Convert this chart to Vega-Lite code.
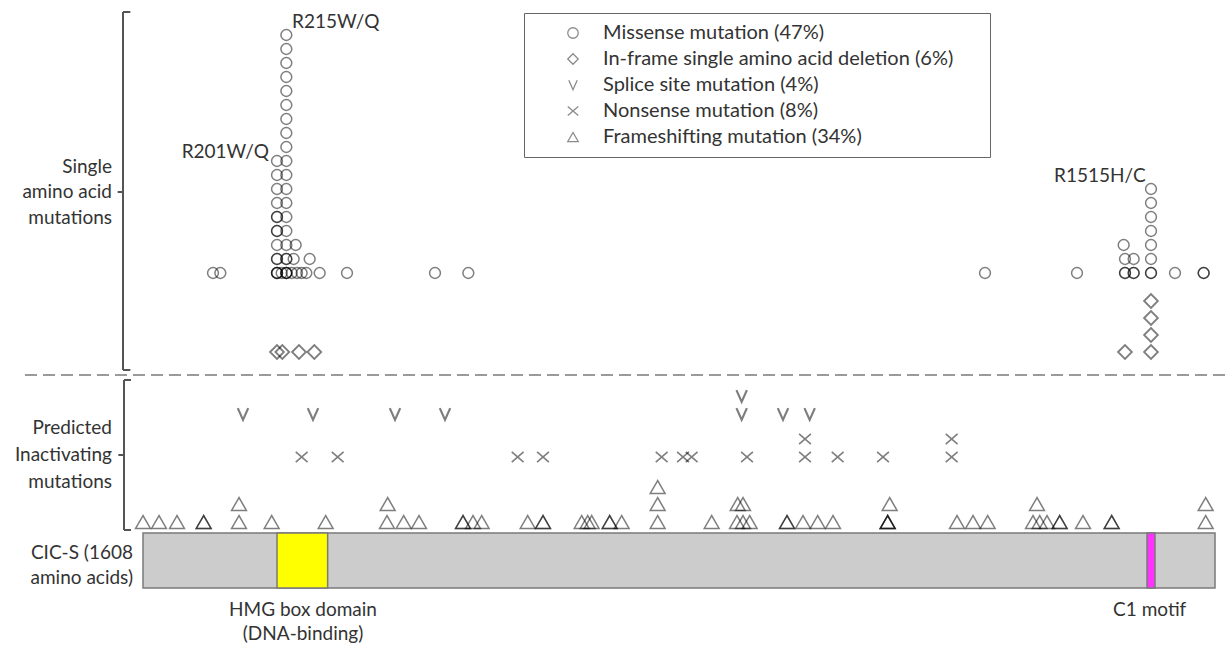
{
  "$schema": "https://vega.github.io/schema/vega-lite/v6.json",
  "width": 1228,
  "height": 646,
  "autosize": {"type": "fit", "contains": "padding"},
  "padding": 0,
  "background": "#ffffff",
  "config": {"view": {"stroke": null}},
  "datasets": {
    "types": [
      {"k": "M", "type": "Missense mutation (47%)"},
      {"k": "D", "type": "In-frame single amino acid deletion (6%)"},
      {"k": "S", "type": "Splice site mutation (4%)"},
      {"k": "N", "type": "Nonsense mutation (8%)"},
      {"k": "F", "type": "Frameshifting mutation (34%)"}
    ],
    "pts": [
      {"k":"M","aa":105,"y":273},{"k":"M","aa":116,"y":273},{"k":"M","aa":201,"y":273},{"k":"M","aa":201,"y":273},{"k":"M","aa":201,"y":273},{"k":"M","aa":208,"y":273},{"k":"M","aa":215,"y":273},{"k":"M","aa":215,"y":273},{"k":"M","aa":215,"y":273},{"k":"M","aa":223,"y":273},{"k":"M","aa":231,"y":273},{"k":"M","aa":238,"y":273},{"k":"M","aa":245,"y":273},{"k":"M","aa":265,"y":273},{"k":"M","aa":306,"y":273},{"k":"M","aa":438,"y":273},{"k":"M","aa":488,"y":273},{"k":"M","aa":1263,"y":273},{"k":"M","aa":1401,"y":273},{"k":"M","aa":1473,"y":273},{"k":"M","aa":1473,"y":273},{"k":"M","aa":1486,"y":273},{"k":"M","aa":1486,"y":273},{"k":"M","aa":1512,"y":273},{"k":"M","aa":1512,"y":273},{"k":"M","aa":1548,"y":273},{"k":"M","aa":1591,"y":273},{"k":"M","aa":1591,"y":273},
      {"k":"M","aa":201,"y":259},{"k":"M","aa":201,"y":259},{"k":"M","aa":215,"y":259},{"k":"M","aa":215,"y":259},{"k":"M","aa":226,"y":259},{"k":"M","aa":250,"y":259},{"k":"M","aa":1473,"y":259},{"k":"M","aa":1486,"y":259},{"k":"M","aa":1512,"y":259},
      {"k":"M","aa":201,"y":245},{"k":"M","aa":215,"y":245},{"k":"M","aa":229,"y":245},{"k":"M","aa":1471,"y":245},{"k":"M","aa":1512,"y":245},
      {"k":"M","aa":201,"y":231},{"k":"M","aa":201,"y":231},{"k":"M","aa":215,"y":231},{"k":"M","aa":1512,"y":231},
      {"k":"M","aa":201,"y":217},{"k":"M","aa":201,"y":217},{"k":"M","aa":215,"y":217},{"k":"M","aa":1512,"y":217},
      {"k":"M","aa":201,"y":203},{"k":"M","aa":215,"y":203},{"k":"M","aa":1512,"y":203},
      {"k":"M","aa":201,"y":189},{"k":"M","aa":215,"y":189},{"k":"M","aa":1512,"y":189},
      {"k":"M","aa":201,"y":175},{"k":"M","aa":215,"y":175},
      {"k":"M","aa":201,"y":161},{"k":"M","aa":215,"y":161},
      {"k":"M","aa":215,"y":147},{"k":"M","aa":215,"y":133},{"k":"M","aa":215,"y":119},{"k":"M","aa":215,"y":105},{"k":"M","aa":215,"y":91},{"k":"M","aa":215,"y":77},{"k":"M","aa":215,"y":63},{"k":"M","aa":215,"y":49},{"k":"M","aa":215,"y":35},
      {"k":"D","aa":201,"y":352},{"k":"D","aa":209,"y":352},{"k":"D","aa":234,"y":352},{"k":"D","aa":257,"y":352},{"k":"D","aa":1473,"y":352},{"k":"D","aa":1512,"y":352},{"k":"D","aa":1512,"y":335},{"k":"D","aa":1512,"y":318},{"k":"D","aa":1512,"y":301},
      {"k":"S","aa":150,"y":414},{"k":"S","aa":255,"y":414},{"k":"S","aa":378,"y":414},{"k":"S","aa":453,"y":414},{"k":"S","aa":898,"y":414},{"k":"S","aa":898,"y":396},{"k":"S","aa":960,"y":414},{"k":"S","aa":1000,"y":414},
      {"k":"N","aa":238,"y":457},{"k":"N","aa":292,"y":457},{"k":"N","aa":562,"y":457},{"k":"N","aa":600,"y":457},{"k":"N","aa":778,"y":457},{"k":"N","aa":810,"y":457},{"k":"N","aa":823,"y":457},{"k":"N","aa":906,"y":457},{"k":"N","aa":993,"y":457},{"k":"N","aa":993,"y":439},{"k":"N","aa":1042,"y":457},{"k":"N","aa":1110,"y":457},{"k":"N","aa":1213,"y":457},{"k":"N","aa":1213,"y":439},
      {"k":"F","aa":0,"y":522},{"k":"F","aa":24,"y":522},{"k":"F","aa":51,"y":522},{"k":"F","aa":91,"y":522},{"k":"F","aa":91,"y":522},{"k":"F","aa":144,"y":522},{"k":"F","aa":193,"y":522},{"k":"F","aa":274,"y":522},{"k":"F","aa":366,"y":522},{"k":"F","aa":391,"y":522},{"k":"F","aa":414,"y":522},{"k":"F","aa":480,"y":522},{"k":"F","aa":480,"y":522},{"k":"F","aa":495,"y":522},{"k":"F","aa":508,"y":522},{"k":"F","aa":577,"y":522},{"k":"F","aa":600,"y":522},{"k":"F","aa":600,"y":522},{"k":"F","aa":658,"y":522},{"k":"F","aa":667,"y":522},{"k":"F","aa":673,"y":522},{"k":"F","aa":700,"y":522},{"k":"F","aa":700,"y":522},{"k":"F","aa":718,"y":522},{"k":"F","aa":772,"y":522},{"k":"F","aa":853,"y":522},{"k":"F","aa":891,"y":522},{"k":"F","aa":900,"y":522},{"k":"F","aa":910,"y":522},{"k":"F","aa":966,"y":522},{"k":"F","aa":966,"y":522},{"k":"F","aa":990,"y":522},{"k":"F","aa":1012,"y":522},{"k":"F","aa":1035,"y":522},{"k":"F","aa":1117,"y":522},{"k":"F","aa":1117,"y":522},{"k":"F","aa":1117,"y":522},{"k":"F","aa":1221,"y":522},{"k":"F","aa":1245,"y":522},{"k":"F","aa":1267,"y":522},{"k":"F","aa":1335,"y":522},{"k":"F","aa":1345,"y":522},{"k":"F","aa":1356,"y":522},{"k":"F","aa":1375,"y":522},{"k":"F","aa":1375,"y":522},{"k":"F","aa":1410,"y":522},{"k":"F","aa":1453,"y":522},{"k":"F","aa":1453,"y":522},{"k":"F","aa":1594,"y":522},
      {"k":"F","aa":144,"y":504},{"k":"F","aa":367,"y":504},{"k":"F","aa":772,"y":504},{"k":"F","aa":892,"y":504},{"k":"F","aa":900,"y":504},{"k":"F","aa":1120,"y":504},{"k":"F","aa":1341,"y":504},{"k":"F","aa":1594,"y":504},
      {"k":"F","aa":772,"y":487}
    ]
  },
  "layer": [
    {
      "data": {"values": [{"aa": -177, "aa2": 1626, "y": 375}]},
      "mark": {"type": "rule", "stroke": "#9a9a9a", "strokeWidth": 2, "strokeDash": [12, 6]},
      "encoding": {
        "x": {"field": "aa", "type": "quantitative", "scale": {"domain": [-214.5, 1627.5], "nice": false, "zero": false}, "axis": null},
        "x2": {"field": "aa2"},
        "y": {"field": "y", "type": "quantitative", "scale": {"domain": [0, 646], "reverse": true, "nice": false, "zero": false}, "axis": null}
      }
    },
    {
      "data": {"values": [
        {"aa": -30, "aa2": -30, "y": 12, "y2": 370},
        {"aa": -30, "aa2": -19, "y": 12, "y2": 12},
        {"aa": -30, "aa2": -19, "y": 370, "y2": 370},
        {"aa": -38, "aa2": -30, "y": 192, "y2": 192},
        {"aa": -28.5, "aa2": -28.5, "y": 380, "y2": 530},
        {"aa": -28.5, "aa2": -18, "y": 380, "y2": 380},
        {"aa": -28.5, "aa2": -18, "y": 530, "y2": 530},
        {"aa": -37, "aa2": -28.5, "y": 455, "y2": 455}
      ]},
      "mark": {"type": "rule", "stroke": "#555555", "strokeWidth": 2},
      "encoding": {
        "x": {"field": "aa", "type": "quantitative", "scale": {"domain": [-214.5, 1627.5], "nice": false, "zero": false}, "axis": null},
        "x2": {"field": "aa2"},
        "y": {"field": "y", "type": "quantitative", "scale": {"domain": [0, 646], "reverse": true, "nice": false, "zero": false}, "axis": null},
        "y2": {"field": "y2"}
      }
    },
    {
      "data": {"values": [
        {"part": "CIC-S", "aa": 0, "aa2": 1608, "y": 533, "y2": 588},
        {"part": "HMG box", "aa": 201, "aa2": 277, "y": 533, "y2": 588},
        {"part": "C1 motif", "aa": 1506, "aa2": 1518, "y": 533, "y2": 588}
      ]},
      "mark": {"type": "rect", "stroke": "#7a7a7a", "strokeWidth": 1.5},
      "encoding": {
        "x": {"field": "aa", "type": "quantitative", "scale": {"domain": [-214.5, 1627.5], "nice": false, "zero": false}, "axis": null},
        "x2": {"field": "aa2"},
        "y": {"field": "y", "type": "quantitative", "scale": {"domain": [0, 646], "reverse": true, "nice": false, "zero": false}, "axis": null},
        "y2": {"field": "y2"},
        "fill": {"field": "part", "type": "nominal", "scale": {"domain": ["CIC-S", "HMG box", "C1 motif"], "range": ["#cccccc", "#ffff00", "#ff33ff"]}, "legend": null}
      }
    },
    {
      "data": {"name": "pts"},
      "transform": [{"lookup": "k", "from": {"data": {"name": "types"}, "key": "k", "fields": ["type"]}}],
      "mark": {"type": "point", "filled": false, "stroke": "#000000", "opacity": 0.5},
      "encoding": {
        "x": {"field": "aa", "type": "quantitative", "scale": {"domain": [-214.5, 1627.5], "nice": false, "zero": false}, "axis": null},
        "y": {"field": "y", "type": "quantitative", "scale": {"domain": [0, 646], "reverse": true, "nice": false, "zero": false}, "axis": null},
        "shape": {
          "field": "type", "type": "nominal",
          "scale": {
            "domain": ["Missense mutation (47%)", "In-frame single amino acid deletion (6%)", "Splice site mutation (4%)", "Nonsense mutation (8%)", "Frameshifting mutation (34%)"],
            "range": ["circle", "diamond", "M-0.8,-0.9L0,0.9L0.8,-0.9", "M-1,-0.85L1,0.85M-1,0.85L1,-0.85", "triangle-up"]
          },
          "legend": {
            "orient": "none", "legendX": 524, "legendY": 13,
            "title": " ", "titleOrient": "right", "titlePadding": 27, "titleFontSize": 1,
            "padding": 10, "strokeColor": "#666666",
            "symbolSize": 110, "symbolOffset": 29, "symbolStrokeColor": "#000000", "symbolOpacity": 0.45, "symbolStrokeWidth": 1.3,
            "labelOffset": 20, "labelFont": "Lato", "labelFontSize": 20, "labelColor": "#333333", "labelLimit": 600,
            "rowPadding": 6
          }
        },
        "size": {
          "field": "k", "type": "nominal",
          "scale": {"type": "ordinal", "domain": ["M", "D", "S", "N", "F"], "range": [118, 190, 170, 140, 220]},
          "legend": null
        },
        "strokeWidth": {
          "field": "k", "type": "nominal",
          "scale": {"type": "ordinal", "domain": ["M", "D", "S", "N", "F"], "range": [1.5, 1.8, 2.2, 1.6, 1.5]},
          "legend": null
        }
      }
    },
    {
      "data": {"values": [
        {"aa": -46.5, "y": 167, "label": "Single"},
        {"aa": -46.5, "y": 192, "label": "amino acid"},
        {"aa": -46.5, "y": 218, "label": "mutations"},
        {"aa": -46.5, "y": 428, "label": "Predicted"},
        {"aa": -46.5, "y": 455, "label": "Inactivating"},
        {"aa": -46.5, "y": 482, "label": "mutations"},
        {"aa": -15, "y": 553, "label": "CIC-S (1608"},
        {"aa": -15, "y": 578, "label": "amino acids)"},
        {"aa": 189, "y": 152, "label": "R201W/Q"},
        {"aa": 1504, "y": 176, "label": "R1515H/C"}
      ]},
      "mark": {"type": "text", "align": "right", "baseline": "middle", "font": "Lato", "fontSize": 19, "color": "#333333"},
      "encoding": {
        "x": {"field": "aa", "type": "quantitative", "scale": {"domain": [-214.5, 1627.5], "nice": false, "zero": false}, "axis": null},
        "y": {"field": "y", "type": "quantitative", "scale": {"domain": [0, 646], "reverse": true, "nice": false, "zero": false}, "axis": null},
        "text": {"field": "label"}
      }
    },
    {
      "data": {"values": [
        {"aa": 223.5, "y": 22, "label": "R215W/Q"}
      ]},
      "mark": {"type": "text", "align": "left", "baseline": "middle", "font": "Lato", "fontSize": 19, "color": "#333333"},
      "encoding": {
        "x": {"field": "aa", "type": "quantitative", "scale": {"domain": [-214.5, 1627.5], "nice": false, "zero": false}, "axis": null},
        "y": {"field": "y", "type": "quantitative", "scale": {"domain": [0, 646], "reverse": true, "nice": false, "zero": false}, "axis": null},
        "text": {"field": "label"}
      }
    },
    {
      "data": {"values": [
        {"aa": 240, "y": 610, "label": "HMG box domain"},
        {"aa": 240, "y": 634, "label": "(DNA-binding)"},
        {"aa": 1510, "y": 610, "label": "C1 motif"}
      ]},
      "mark": {"type": "text", "align": "center", "baseline": "middle", "font": "Lato", "fontSize": 19, "color": "#333333"},
      "encoding": {
        "x": {"field": "aa", "type": "quantitative", "scale": {"domain": [-214.5, 1627.5], "nice": false, "zero": false}, "axis": null},
        "y": {"field": "y", "type": "quantitative", "scale": {"domain": [0, 646], "reverse": true, "nice": false, "zero": false}, "axis": null},
        "text": {"field": "label"}
      }
    }
  ]
}
